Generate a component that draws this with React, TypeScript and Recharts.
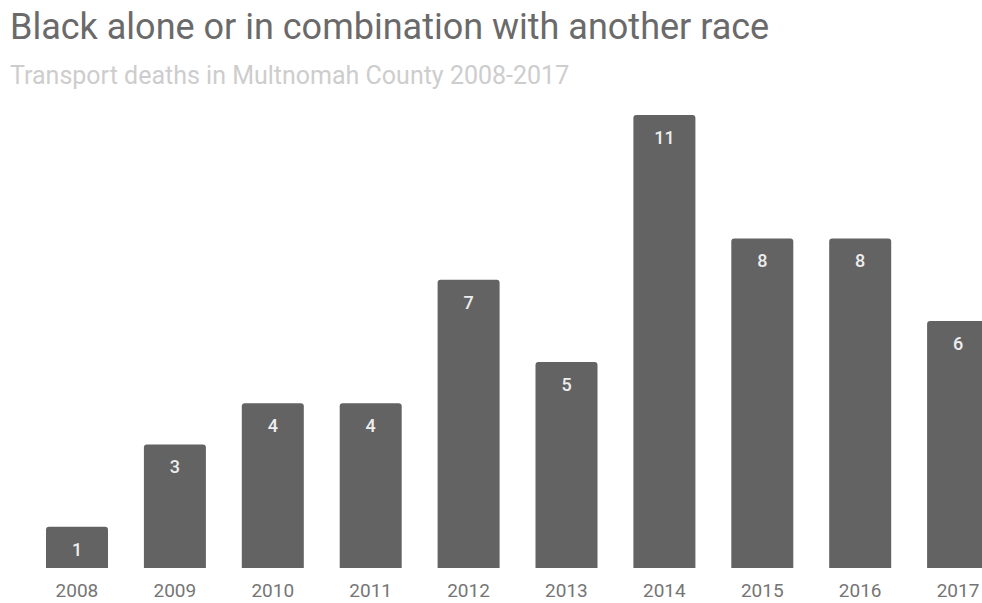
import { BarChart, Bar, XAxis, YAxis, LabelList } from 'recharts';

const years = ['2008', '2009', '2010', '2011', '2012', '2013', '2014', '2015', '2016', '2017'];
const deaths = [1, 3, 4, 4, 7, 5, 11, 8, 8, 6];

const data = years.map((year, i) => ({ year, deaths: deaths[i] }));

const FONT = 'Roboto, "Noto Sans", sans-serif';

export default function App() {
  return (
    <div
      style={{
        position: 'fixed',
        left: 0,
        top: 0,
        width: 982,
        height: 603,
        overflow: 'hidden',
        background: '#fff',
        fontFamily: FONT,
      }}
    >
      <div
        style={{
          position: 'absolute',
          left: 10,
          top: 6,
          fontSize: 36,
          color: '#6a6a6a',
          whiteSpace: 'nowrap',
          lineHeight: '42px',
        }}
      >
        Black alone or in combination with another race
      </div>
      <div
        style={{
          position: 'absolute',
          left: 10,
          top: 61,
          fontSize: 25,
          color: '#cdcdcd',
          whiteSpace: 'nowrap',
          lineHeight: '30px',
        }}
      >
        Transport deaths in Multnomah County 2008-2017
      </div>
      <div style={{ position: 'absolute', left: 0, top: 0 }}>
        <BarChart
          width={1040}
          height={603}
          data={data}
          margin={{ top: 115, right: 33, bottom: 0, left: 28 }}
        >
          <XAxis
            dataKey="year"
            axisLine={false}
            tickLine={false}
            tickSize={0}
            tickMargin={16}
            height={35}
            interval={0}
            tick={{ fill: '#757575', fontSize: 19, fontFamily: FONT }}
          />
          <YAxis hide domain={[0, 11]} />
          <Bar dataKey="deaths" fill="#636363" barSize={62} radius={[3, 3, 0, 0]} isAnimationActive={false}>
            <LabelList
              dataKey="deaths"
              position="insideTop"
              offset={16}
              fill="#eeeeee"
              fontSize={18}
              fontFamily={FONT}
              fontWeight={500}
            />
          </Bar>
        </BarChart>
      </div>
    </div>
  );
}
